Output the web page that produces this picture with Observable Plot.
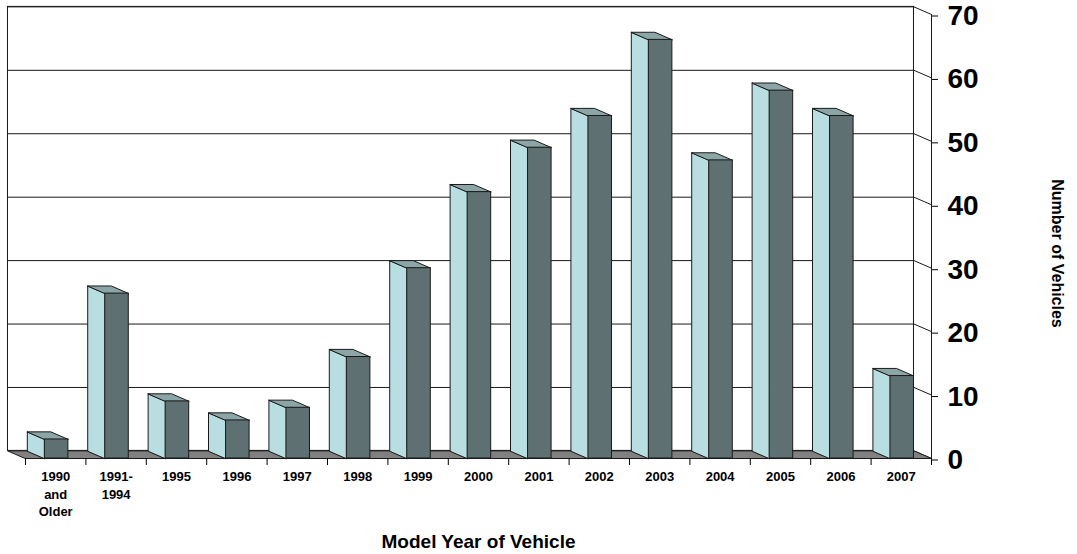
<!DOCTYPE html>
<html>
<head>
<meta charset="utf-8">
<script src="https://cdn.jsdelivr.net/npm/d3@7"></script>
<script src="https://cdn.jsdelivr.net/npm/@observablehq/plot@0.6"></script>
<style>
  body { margin: 0; background: #fff; }
</style>
</head>
<body>
<div id="chart"></div>
<script>
// Model years (x categories) and the number of vehicles in each
const categories = ["1990\nand\nOlder", "1991-\n1994", "1995", "1996", "1997", "1998", "1999",
  "2000", "2001", "2002", "2003", "2004", "2005", "2006", "2007"];
const vehicles = [3, 26, 9, 6, 8, 16, 30, 42, 49, 54, 66, 47, 58, 54, 13];
const yTicks = [0, 10, 20, 30, 40, 50, 60, 70];
const xTitle = "Model Year of Vehicle";
const yTitle = "Number of Vehicles";

// Oblique 3-D projection: how far the back plane is shifted, in data units
const DX = 0.29;   // towards the left, in category widths
const DY = 1.2;    // upwards, in vehicles
const FRONT_L = 0.32, FRONT_R = 0.71;  // front face of a column within its category slot
const N = categories.length;

const colors = {side: "#b9dee2", front: "#5f7072", top: "#8ca6a8", floor: "#808080", edge: "#1a1a1a"};

const bars = vehicles.map((v, i) => ({i, v, l: i + FRONT_L, r: i + FRONT_R, label: categories[i]}));

// column faces as closed polygons
const sideFaces = bars.flatMap(b => [
  {id: b.i, x: b.l, y: 0}, {id: b.i, x: b.l, y: b.v},
  {id: b.i, x: b.l - DX, y: b.v + DY}, {id: b.i, x: b.l - DX, y: DY}
]);
const topFaces = bars.flatMap(b => [
  {id: b.i, x: b.l, y: b.v}, {id: b.i, x: b.r, y: b.v},
  {id: b.i, x: b.r - DX, y: b.v + DY}, {id: b.i, x: b.l - DX, y: b.v + DY}
]);
const floor = [
  {x: -DX, y: DY}, {x: N - DX, y: DY}, {x: N, y: 0}, {x: 0, y: 0}
];

const font = "'Liberation Sans', Arial, Helvetica, sans-serif";

const chart = Plot.plot({
  width: 1077,
  height: 554,
  marginLeft: 25,
  marginRight: 146,
  marginTop: 14,
  marginBottom: 96,
  style: {fontFamily: font, background: "#fff", overflow: "visible", color: "#000"},
  x: {domain: [0, N], axis: null},
  y: {domain: [0, 70], axis: null},
  marks: [
    // back wall
    Plot.rect([0], {x1: -DX, x2: N - DX, y1: DY, y2: 70 + DY, fill: "#fff", stroke: colors.edge, strokeWidth: 1}),
    // gridlines on the back wall and their slanted links to the front axis
    Plot.ruleY(yTicks.filter(t => t > 0), {y: t => t + DY, x1: -DX, x2: N - DX, stroke: colors.edge, strokeWidth: 1}),
    Plot.link(yTicks, {x1: N - DX, y1: t => t + DY, x2: N, y2: t => t, stroke: colors.edge, strokeWidth: 1}),
    // floor
    Plot.line(floor, {x: "x", y: "y", curve: "linear-closed", fill: colors.floor, stroke: colors.edge, strokeWidth: 1}),
    // columns
    Plot.line(sideFaces, {x: "x", y: "y", z: "id", curve: "linear-closed", fill: colors.side, stroke: colors.edge, strokeWidth: 1}),
    Plot.line(topFaces, {x: "x", y: "y", z: "id", curve: "linear-closed", fill: colors.top, stroke: colors.edge, strokeWidth: 1}),
    Plot.rect(bars, {x1: "l", x2: "r", y1: 0, y2: "v", fill: colors.front, stroke: colors.edge, strokeWidth: 1}),
    // front value axis
    Plot.ruleX([N], {y1: 0, y2: 70, stroke: colors.edge, strokeWidth: 1}),
    Plot.axisY(yTicks, {anchor: "right", tickSize: 6, tickPadding: 10, dy: 1.5, fontSize: 28, fontWeight: "bold", label: null}),
    // category axis: tick marks between slots and labels centred in each slot
    Plot.axisX(d3.range(N + 1), {anchor: "bottom", tickSize: 7, tickFormat: () => "", label: null}),
    Plot.text(bars, {x: d => d.i + 0.5, y: 0, text: "label", lineAnchor: "top", dy: 10, lineHeight: 1.35,
      fontSize: 13, fontWeight: "bold"}),
    // axis titles
    Plot.text([xTitle], {frameAnchor: "bottom", lineAnchor: "middle", textAnchor: "middle", dy: 83,
      fontSize: 19, fontWeight: "bold"}),
    Plot.text([yTitle], {frameAnchor: "right", lineAnchor: "middle", textAnchor: "middle", dx: 126, dy: 17,
      rotate: 90, fontSize: 16, fontWeight: "bold"})
  ]
});

document.getElementById("chart").append(chart);
</script>
</body>
</html>
